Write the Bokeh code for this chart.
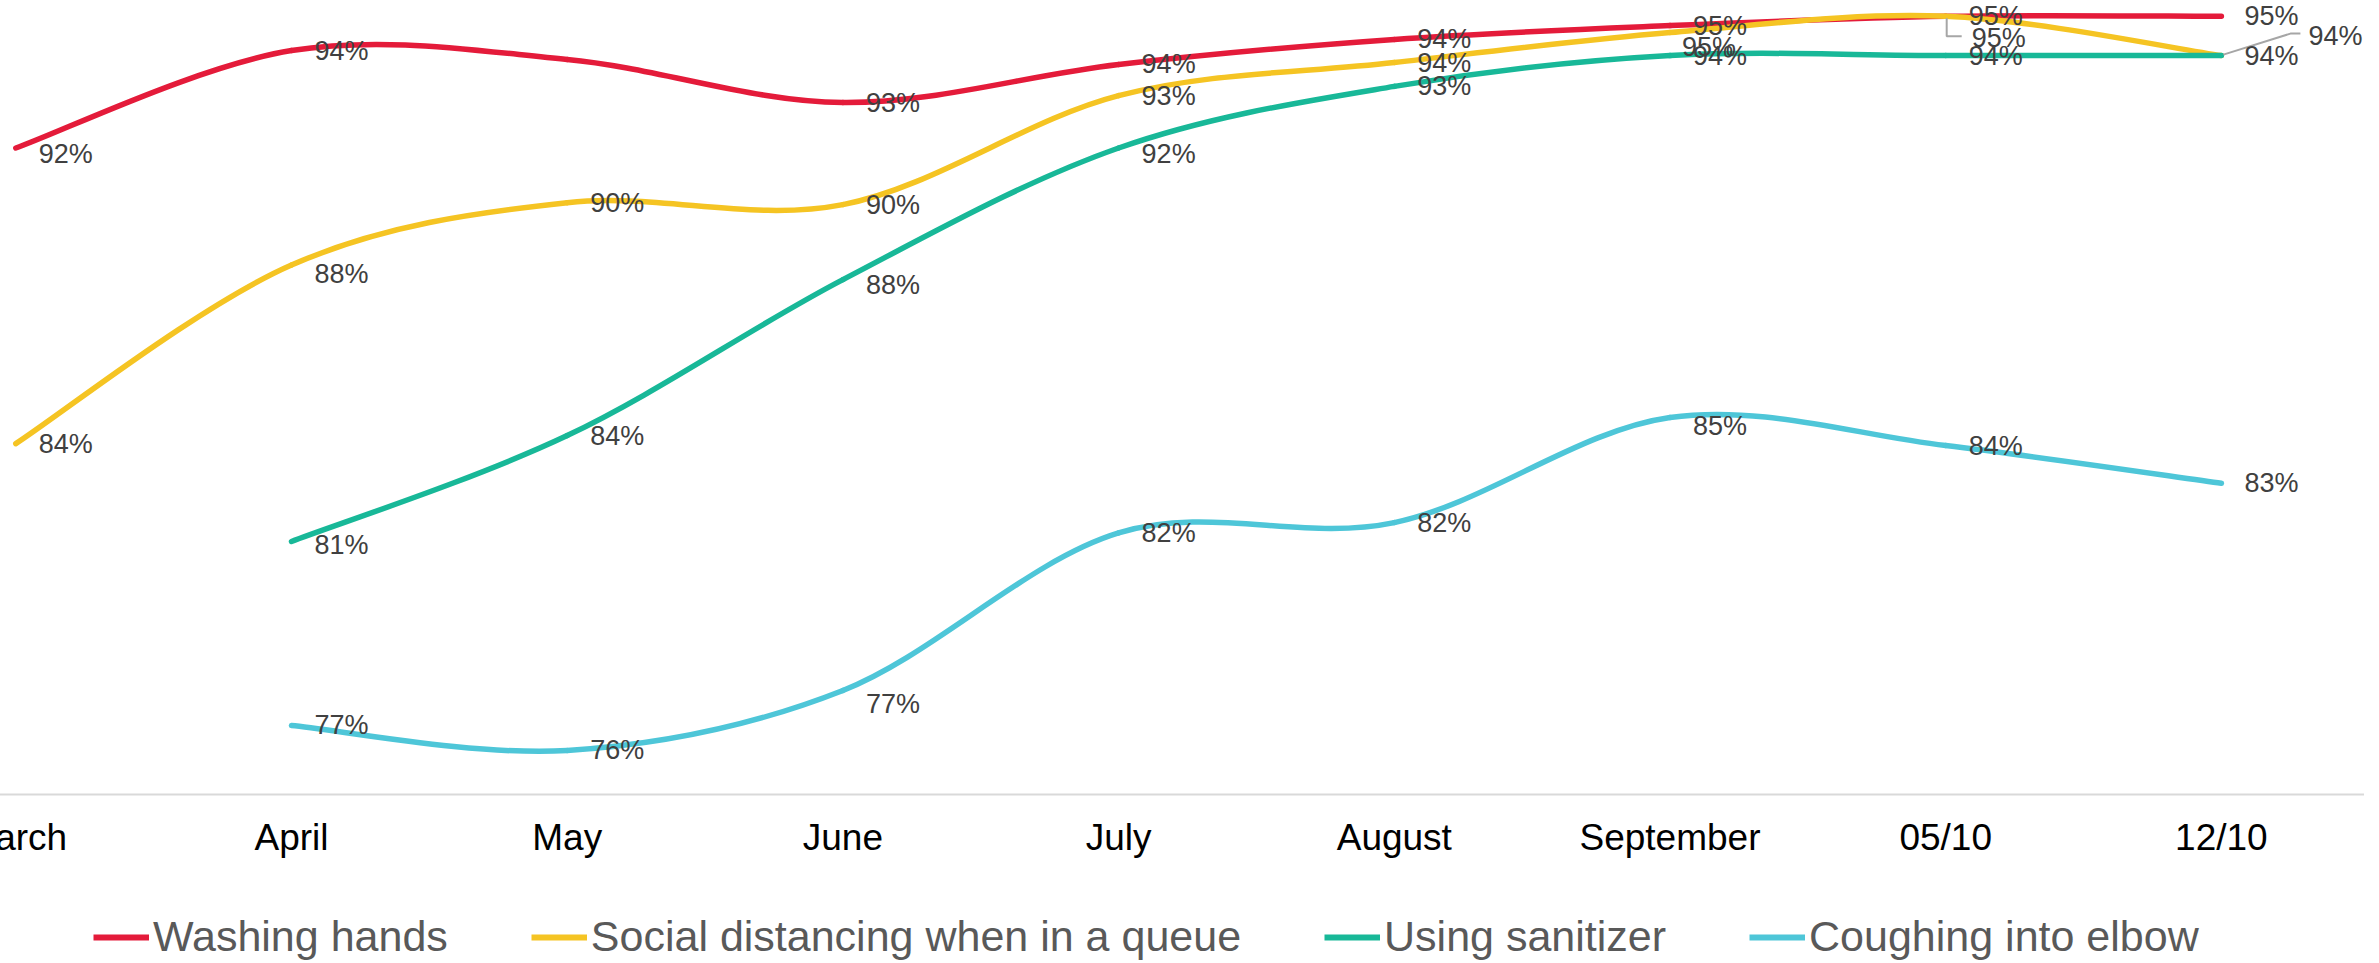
from bokeh.plotting import figure
from bokeh.layouts import column
from bokeh.models import Range1d, FixedTicker, Legend, LegendItem, ColumnDataSource
from bokeh.embed import file_html
from bokeh.resources import INLINE
from bokeh.core.properties import value

# ---------------- data ----------------
categories = ["March", "April", "May", "June", "July", "August", "September", "05/10", "12/10"]
washing_hands = [91.52, 94.05, 93.82, 92.70, 93.69, 94.34, 94.70, 94.94, 94.94]
social_distancing = [83.84, 88.48, 90.10, 90.05, 92.88, 93.74, 94.52, 94.94, 93.92]
using_sanitizer = [None, 81.30, 84.05, 88.10, 91.52, 93.12, 93.92, 93.92, 93.92]
coughing_elbow = [None, 76.52, 75.87, 77.43, 81.52, 81.79, 84.52, 83.79, 82.81]
series_names = ["Washing hands", "Social distancing when in a queue",
                "Using sanitizer", "Coughing into elbow"]
hidden_labels = {"Washing hands": [2]}  # no data label shown for May

# ---------------- style ----------------
colors = ["#E41B3A", "#F5C423", "#18B898", "#4EC6D8"]
FONT = "Liberation Sans"
SHIFT = 37                      # canvas starts this far left of the page edge
FRAME_W, FRAME_H = 2401, 794
X_START = -0.1897
X_END = X_START + FRAME_W / 275.7
Y_START, Y_END = 74.727, 95.351
PX_X = FRAME_W / (X_END - X_START)
PX_Y = FRAME_H / (Y_END - Y_START)
LABEL_DX = 23
# label placements (pixel offsets from the point) that differ from the default
WH, SD, US, CE = series_names
label_offsets = {(WH, 0): (LABEL_DX, 6),
                 (SD, 1): (LABEL_DX, 9),
                 (SD, 6): (12, 15),
                 (SD, 7): (26, 22),
                 (SD, 8): (87, -20),
                 (US, 1): (LABEL_DX, 4),
                 (US, 3): (LABEL_DX, 5),
                 (US, 4): (LABEL_DX, 6),
                 (CE, 3): (LABEL_DX, 14),
                 (CE, 6): (LABEL_DX, 9)}
leaders = {(SD, 7): [(1, 2), (1, 20), (16, 20)],
           (SD, 8): [(2, -1), (69, -22), (79, -22)]}

p = figure(frame_width=FRAME_W, frame_height=FRAME_H, output_backend="svg",
           toolbar_location=None, y_axis_location=None,
           x_range=Range1d(X_START, X_END), y_range=Range1d(Y_START, Y_END),
           min_border=0, min_border_left=0, min_border_right=0,
           min_border_top=0, min_border_bottom=0)
p.outline_line_color = None
p.xgrid.visible = False
p.ygrid.visible = False
p.background_fill_color = "white"
p.border_fill_color = "white"

xa = p.xaxis[0]
xa.ticker = FixedTicker(ticks=list(range(len(categories))))
xa.major_label_overrides = {i: c for i, c in enumerate(categories)}
xa.major_tick_line_color = None
xa.minor_tick_line_color = None
xa.major_tick_out = 0
xa.major_tick_in = 0
xa.axis_line_color = "#D9D9D9"
xa.axis_line_width = 2
xa.major_label_standoff = 22
xa.major_label_text_font = FONT
xa.major_label_text_font_size = "37px"
xa.major_label_text_color = "#000000"


def smooth_segments(vals):
    pts = [(i, v) for i, v in enumerate(vals) if v is not None]
    d = dict(x0=[], y0=[], x1=[], y1=[], cx0=[], cy0=[], cx1=[], cy1=[])
    n = len(pts)
    for k in range(n - 1):
        a = pts[k - 1] if k > 0 else pts[k]
        b = pts[k]
        c = pts[k + 1]
        e = pts[k + 2] if k + 2 < n else pts[k + 1]
        d["x0"].append(b[0]); d["y0"].append(b[1])
        d["x1"].append(c[0]); d["y1"].append(c[1])
        d["cx0"].append(b[0] + (c[0] - a[0]) / 6.0)
        d["cy0"].append(b[1] + (c[1] - a[1]) / 6.0)
        d["cx1"].append(c[0] - (e[0] - b[0]) / 6.0)
        d["cy1"].append(c[1] - (e[1] - b[1]) / 6.0)
    return d


all_series = [washing_hands, social_distancing, using_sanitizer, coughing_elbow]
for name, vals, col in zip(series_names, all_series, colors):
    src = ColumnDataSource(smooth_segments(vals))
    p.bezier(x0="x0", y0="y0", x1="x1", y1="y1", cx0="cx0", cy0="cy0",
             cx1="cx1", cy1="cy1", source=src, line_color=col, line_width=5.5,
             line_cap="round")

# leader lines
for (name, idx), offs in leaders.items():
    vals = all_series[series_names.index(name)]
    xs = [idx + dx / PX_X for dx, dy in offs]
    ys = [vals[idx] - dy / PX_Y for dx, dy in offs]
    p.line(xs, ys, line_color="#A6A6A6", line_width=2)

# data labels
for name, vals in zip(series_names, all_series):
    lx, ly, lt, ox, oy = [], [], [], [], []
    for i, v in enumerate(vals):
        if v is None or i in hidden_labels.get(name, []):
            continue
        dx, dy = label_offsets.get((name, i), (LABEL_DX, 0))
        lx.append(i); ly.append(v); lt.append(f"{round(v)}%")
        ox.append(dx); oy.append(dy)
    src = ColumnDataSource(dict(x=lx, y=ly, t=lt, ox=ox, oy=oy))
    p.text(x="x", y="y", text="t", x_offset="ox", y_offset="oy", source=src,
           text_font=value(FONT), text_font_size="27px", text_color="#404040",
           text_baseline="middle", text_align="left")

# ---------------- legend (own strip below the chart) ----------------
lp = figure(width=FRAME_W, height=101, output_backend="svg", toolbar_location=None,
            x_axis_location=None, y_axis_location=None,
            x_range=Range1d(0, 1), y_range=Range1d(0, 1),
            min_border=0, min_border_left=0, min_border_right=0,
            min_border_top=0, min_border_bottom=0)
lp.outline_line_color = None
lp.xgrid.visible = False
lp.ygrid.visible = False
items = []
for name, col in zip(series_names, colors):
    # legend swatch carrier, kept outside the visible range
    r = lp.line(x=[-5, -4], y=[-5, -4], line_color=col, line_width=6)
    items.append(LegendItem(label=name, renderers=[r]))
legend = Legend(items=items, orientation="horizontal", location=(93 + SHIFT, 0),
                margin=0, padding=0, spacing=83, glyph_width=56, glyph_height=20,
                label_standoff=4, label_text_font=FONT, label_text_font_size="43px",
                label_text_color="#595959", border_line_color=None,
                background_fill_alpha=0, label_height=48)
lp.add_layout(legend, "center")

layout = column(p, lp, spacing=0)
layout.styles = {"margin-left": f"-{SHIFT}px"}

open("out.html", "w").write(file_html(layout, INLINE))
